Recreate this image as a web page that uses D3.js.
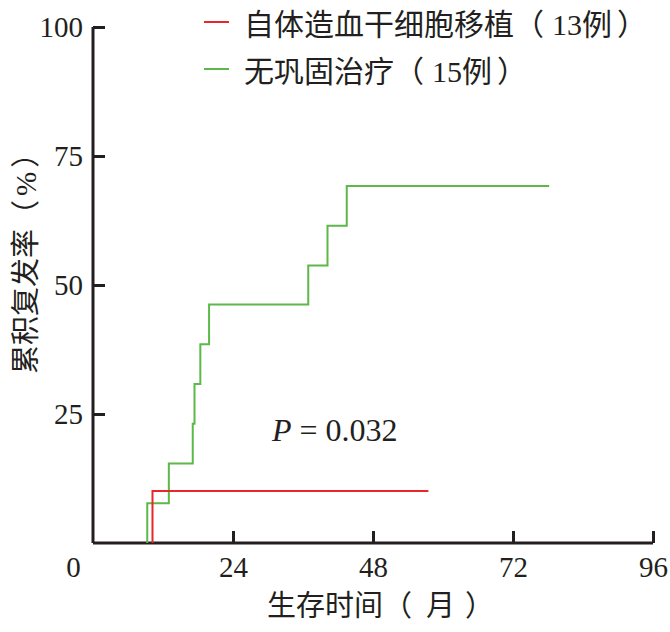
<!DOCTYPE html>
<html><head><meta charset="utf-8">
<script src="https://cdn.jsdelivr.net/npm/d3@7"></script>
<style>
body{margin:0;background:#fff}
text{font-family:"Liberation Serif","Tinos","DejaVu Serif","Noto Sans CJK SC",serif;}
</style>
</head><body>
<svg id="c" width="670" height="632"></svg>
<script>
const xTicks = [0, 24, 48, 72, 96];
const yTicks = [25, 50, 75, 100];
const seriesNames = ["自体造血干细胞移植", "无巩固治疗"];
const seriesCounts = ["13", "15"];
const seriesColors = ["#e8262b", "#5cb848"];
// step points: [month, cumulative recurrence %]
const redMonths = [10.2, 10.2, 57.5];
const redValues = [0, 10.1, 10.1];
const greenMonths = [9.3, 13.0, 17.1, 17.4, 18.4, 19.9, 36.9, 40.2, 43.5, 78.2];
const greenValues = [7.7, 15.4, 23.1, 30.8, 38.5, 46.2, 53.8, 61.5, 69.2, 69.2];

const svg = d3.select("#c");
const x = d3.scaleLinear().domain([0, 96]).range([93, 653]);
const y = d3.scaleLinear().domain([0, 100]).range([543, 27]);
const ink = "#231f20";
const cjk = "'Noto Sans CJK SC', sans-serif";
const serif = "'Liberation Serif', 'Tinos', 'DejaVu Serif', serif";

// axes
const gx = svg.append("g").attr("transform", `translate(0,${y(0)})`)
  .call(d3.axisBottom(x).tickValues(xTicks).tickSize(-12).tickPadding(13).tickFormat(d3.format("d")));
const gy = svg.append("g").attr("transform", `translate(${x(0)},0)`)
  .call(d3.axisLeft(y).tickValues(yTicks).tickSize(-12).tickPadding(10).tickFormat(d3.format("d")));
[gx, gy].forEach(g => {
  g.attr("font-family", null).attr("font-size", null);
  g.select(".domain").attr("stroke", ink).attr("stroke-width", 3);
  g.selectAll(".tick line").attr("stroke", ink).attr("stroke-width", 3);
  g.selectAll(".tick text").attr("fill", ink).attr("font-family", serif).attr("font-size", 29);
});
gx.select(".domain").attr("d", `M${x(0)},0H${x(96)}`);
gy.select(".domain").attr("d", `M0,${y(0)}V${y(100)}`);
gx.selectAll(".tick").filter(d => d === 0).select("line").remove();
gx.selectAll(".tick").filter(d => d === 0).select("text").attr("dx", -20);
gy.selectAll(".tick text").attr("dy", "0.32em");

// curves
const line = d3.line().x(d => x(d[0])).y(d => y(d[1])).curve(d3.curveStepAfter);
const greenPts = [[greenMonths[0], 0]].concat(greenMonths.map((m, i) => [m, greenValues[i]]));
svg.append("path").datum(greenPts).attr("d", line)
  .attr("fill", "none").attr("stroke", seriesColors[1]).attr("stroke-width", 2);
const redPts = redMonths.map((m, i) => [m, redValues[i]]);
svg.append("path").datum(redPts).attr("d", d3.line().x(d => x(d[0])).y(d => y(d[1])))
  .attr("fill", "none").attr("stroke", seriesColors[0]).attr("stroke-width", 2);

// legend
seriesNames.forEach((n, i) => {
  const ly = 22 + i * 47;
  svg.append("line").attr("x1", 204).attr("x2", 229).attr("y1", ly).attr("y2", ly)
    .attr("stroke", seriesColors[i]).attr("stroke-width", 2);
  const t = svg.append("text").attr("x", 244).attr("y", ly + 13).attr("fill", ink).attr("font-size", 30);
  t.append("tspan").attr("font-family", cjk).text(n + "（");
  t.append("tspan").attr("font-family", serif).attr("dx", 8).text(seriesCounts[i]);
  t.append("tspan").attr("font-family", cjk).text("例");
  t.append("tspan").attr("font-family", cjk).attr("dx", 5).text("）");
});

// P value
const pt = svg.append("text").attr("x", 272).attr("y", 441)
  .attr("font-family", serif).attr("font-size", 32).attr("fill", ink);
pt.append("tspan").text("P").attr("font-style", "italic");
pt.append("tspan").text(" = 0.032");

// axis titles
const xt = svg.append("text").attr("x", 267).attr("y", 616).attr("fill", ink).attr("font-size", 29).attr("font-family", cjk);
xt.append("tspan").text("生存时间（");
xt.append("tspan").attr("dx", 14).text("月");
xt.append("tspan").attr("dx", 10).text("）");
const yt = svg.append("text").attr("transform", "translate(36,374) rotate(-90)").attr("fill", ink).attr("font-size", 29).attr("font-family", cjk);
yt.append("tspan").text("累积复发率（");
yt.append("tspan").attr("dx", 4).attr("font-family", serif).text("%");
yt.append("tspan").attr("dx", 4).text("）");
</script>
</body></html>
